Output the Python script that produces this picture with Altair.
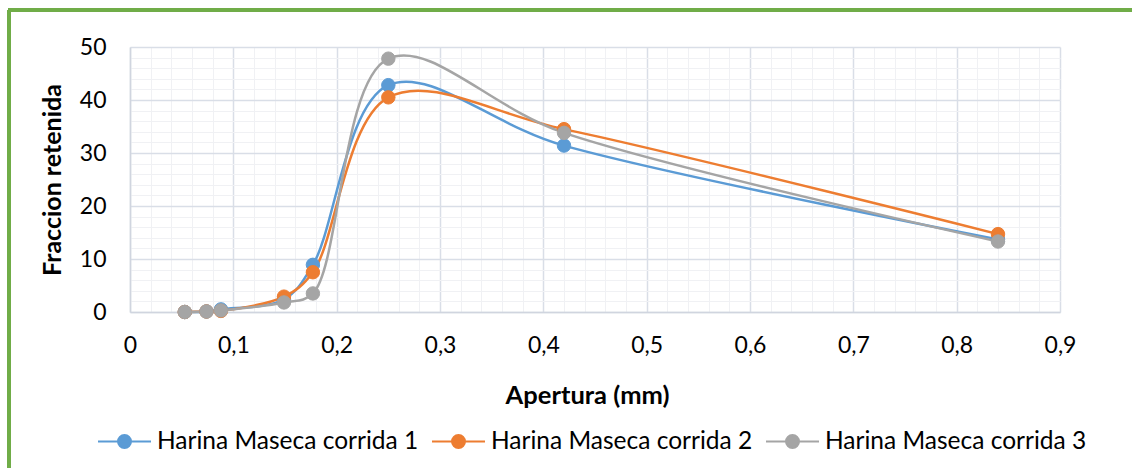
import altair as alt
import pandas as pd

# Sieve apertures (mm) and retained fraction for three runs
apertura = [0.053, 0.074, 0.088, 0.149, 0.177, 0.25, 0.42, 0.84]
corrida_1 = [0.0, 0.1, 0.5, 2.4, 8.9, 42.8, 31.4, 13.7]
corrida_2 = [0.0, 0.1, 0.2, 2.9, 7.5, 40.5, 34.5, 14.7]
corrida_3 = [0.0, 0.1, 0.3, 1.8, 3.5, 47.8, 33.8, 13.3]

series_names = ["Harina Maseca corrida 1", "Harina Maseca corrida 2", "Harina Maseca corrida 3"]
series_colors = ["#5B9BD5", "#ED7D31", "#A5A5A5"]

x_major = [0, 0.1, 0.2, 0.3, 0.4, 0.5, 0.6, 0.7, 0.8, 0.9]
x_minor = [round(i * 0.02, 2) for i in range(46)]
y_major = [0, 10, 20, 30, 40, 50]
y_minor = list(range(0, 52, 2))

rows = []
for name, vals in zip(series_names, [corrida_1, corrida_2, corrida_3]):
    for order, (a, v) in enumerate(zip(apertura, vals)):
        rows.append({"serie": name, "apertura": a, "fraccion": v, "orden": order})
df = pd.DataFrame(rows)

FONT = "Lato"
W, H = 930, 265

x_scale = alt.Scale(domain=[0, 0.9], nice=False, zero=False)
y_scale = alt.Scale(domain=[0, 50], nice=False)
color_scale = alt.Scale(domain=series_names, range=series_colors)

# Legend symbol: a short line with a dot in the middle
legend_symbol = "M-1,0H1M-0.245,0A0.245,0.245,0,1,0,0.245,0A0.245,0.245,0,1,0,-0.245,0Z"

legend = alt.Legend(
    title=None, orient="none", direction="horizontal", legendX=-33, legendY=367,
    symbolType=legend_symbol, symbolSize=2809, symbolStrokeWidth=2,
    labelFont=FONT, labelFontSize=24.5, labelColor="#000000", labelOffset=5,
    columnPadding=9, labelLimit=400,
)

# Minor gridlines
minor = alt.Chart(df).mark_point(opacity=0).encode(
    x=alt.X("apertura:Q", scale=x_scale,
            axis=alt.Axis(values=x_minor, grid=True, gridColor="#F0F1F4", gridWidth=1,
                          labels=False, ticks=False, domain=False, title=None, orient="bottom")),
    y=alt.Y("fraccion:Q", scale=y_scale,
            axis=alt.Axis(values=y_minor, grid=True, gridColor="#F0F1F4", gridWidth=1,
                          labels=False, ticks=False, domain=False, title=None, orient="left")),
)

# Major gridlines, labels and titles
major = alt.Chart(df).mark_point(opacity=0).encode(
    x=alt.X("apertura:Q", scale=x_scale,
            axis=alt.Axis(values=x_major, grid=True, gridColor="#D9DEE7", gridWidth=1.5,
                          domainColor="#D0D5DF", domainWidth=1.5, ticks=False,
                          labelExpr="replace(format(datum.value, '~g'), '.', ',')",
                          labelFlush=False, labelOverlap=False,
                          labelFont=FONT, labelFontSize=23, labelColor="#000000", labelPadding=22,
                          title="Apertura (mm)", titleFont=FONT, titleFontSize=25.5,
                          titleFontWeight="bold", titleColor="#000000", titlePadding=26,
                          titleX=457, orient="bottom")),
    y=alt.Y("fraccion:Q", scale=y_scale,
            axis=alt.Axis(values=y_major, grid=True, gridColor="#D9DEE7", gridWidth=1.5,
                          domainColor="#D0D5DF", domainWidth=1.5, ticks=False,
                          labelFlush=False, labelOverlap=False,
                          labelFont=FONT, labelFontSize=23, labelColor="#000000", labelPadding=24,
                          title="Fraccion retenida", titleFont=FONT, titleFontSize=25,
                          titleFontWeight="bold", titleColor="#000000", titlePadding=14,
                          orient="left")),
)

lines = alt.Chart(df).mark_line(interpolate="catmull-rom", strokeWidth=2.5).encode(
    x=alt.X("apertura:Q", scale=x_scale, axis=None),
    y=alt.Y("fraccion:Q", scale=y_scale, axis=None),
    stroke=alt.Stroke("serie:N", scale=color_scale, legend=legend),
    detail="serie:N",
    order="orden:Q",
)

points = alt.Chart(df).mark_point(filled=True, size=180, opacity=1, strokeWidth=1).encode(
    x=alt.X("apertura:Q", scale=x_scale, axis=None),
    y=alt.Y("fraccion:Q", scale=y_scale, axis=None),
    fill=alt.Fill("serie:N", scale=color_scale, legend=legend),
    stroke=alt.Stroke("serie:N", scale=color_scale, legend=legend),
    order=alt.Order("serie:N"),
)

# Green outer frame
frame_left = alt.Chart(df).mark_rule(color="#70AD47", strokeWidth=2.5).encode(
    x=alt.value(-121), y=alt.value(-37), y2=alt.value(430))
frame_top = alt.Chart(df).mark_rule(color="#70AD47", strokeWidth=2.5).encode(
    x=alt.value(-122), x2=alt.value(1010), y=alt.value(-37))

chart = alt.layer(minor, major, lines, points, frame_left, frame_top).resolve_axis(
    x="independent", y="independent"
).properties(
    width=W, height=H,
    autosize=alt.AutoSizeParams(type="none"),
    padding={"left": 130, "top": 47, "right": 72, "bottom": 156},
    background="#FFFFFF",
).configure_view(stroke=None)

chart.save("out.html", embed_options={"renderer": "svg", "actions": False})
